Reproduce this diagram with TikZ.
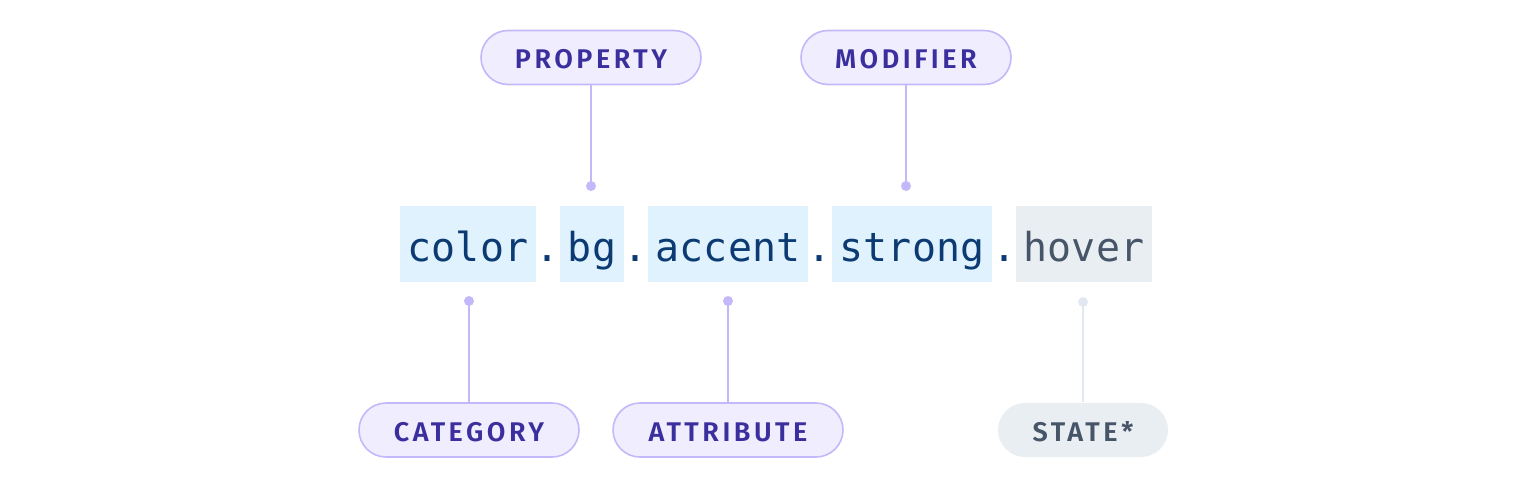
\documentclass[tikz,border=0pt]{standalone}
\usepackage{fontspec}
\setmainfont{Fira Sans}
\newfontfamily\pillfont[LetterSpace=13]{Fira Sans SemiBold}
\newfontfamily\codefont{DejaVu Sans Mono}
\definecolor{boxblue}{HTML}{E0F2FE}
\definecolor{navy}{HTML}{0B3B72}
\definecolor{slatebg}{HTML}{E8EEF1}
\definecolor{slatetext}{HTML}{475569}
\definecolor{pillfill}{HTML}{F0EDFF}
\definecolor{pillborder}{HTML}{C4B8FA}
\definecolor{pilltext}{HTML}{3B2F9E}
\definecolor{stateline}{HTML}{E2E8F0}
\tikzset{
  seg/.style={rectangle, fill=boxblue, minimum height=76pt, inner sep=0pt, text height=40pt, text depth=6pt, text=navy, font=\codefont\fontsize{39.9}{48}\selectfont},
  stateseg/.style={seg, fill=slatebg, text=slatetext},
  sep/.style={inner sep=0pt, anchor=base, text=navy, font=\codefont\fontsize{39.9}{48}\selectfont},
  pill/.style={rectangle, rounded corners=27pt, draw=pillborder, line width=1.6pt, fill=pillfill, minimum height=54pt, inner sep=0pt, text height=22.5pt, text depth=0pt, text=pilltext, font=\pillfont\fontsize{27}{32}\selectfont},
  statepill/.style={pill, draw=none, fill=slatebg, text=slatetext},
  dotn/.style={circle, fill=pillborder, minimum size=10pt, inner sep=0pt},
  statedot/.style={dotn, fill=stateline},
  conn/.style={draw=pillborder, line width=1.6pt},
  stateconn/.style={conn, draw=stateline}
}
\begin{document}
\begin{tikzpicture}[x=1pt, y=-1pt]
\useasboundingbox (0,0) rectangle (1526,488);
% segments
\node[seg, minimum width=136pt] (color) at (468,244) {color};
\node[sep] (d1) at (548,261) {.};
\node[seg, minimum width=64pt] (bg) at (592,244) {bg};
\node[sep] (d2) at (636,261) {.};
\node[seg, minimum width=160pt] (accent) at (728,244) {accent};
\node[sep] (d3) at (820,261) {.};
\node[seg, minimum width=160pt] (strong) at (912,244) {strong};
\node[sep] (d4) at (1004,261) {.};
\node[stateseg, minimum width=136pt] (hover) at (1084,244) {hover};
% pills
\node[pill, minimum width=220pt] (prop) at (591,57.5) {PROPERTY};
\node[pill, minimum width=210pt] (mod) at (906,57.5) {MODIFIER};
\node[pill, minimum width=220pt] (cat) at (469,430) {CATEGORY};
\node[pill, minimum width=230pt] (attr) at (728,430) {ATTRIBUTE};
\node[statepill, minimum width=170pt] (state) at (1083,430) {STATE*};
% dots
\node[dotn] (pd) at (591,186) {};
\node[dotn] (md) at (906,186) {};
\node[dotn] (cd) at (469,301) {};
\node[dotn] (ad) at (728,301) {};
\node[statedot] (sd) at (1083,302) {};
% connectors
\draw[conn] (prop.south) -- (pd.center);
\draw[conn] (mod.south) -- (md.center);
\draw[conn] (cat.north) -- (cd.center);
\draw[conn] (attr.north) -- (ad.center);
\draw[stateconn] (state.north) -- (sd.center);
\end{tikzpicture}
\end{document}
